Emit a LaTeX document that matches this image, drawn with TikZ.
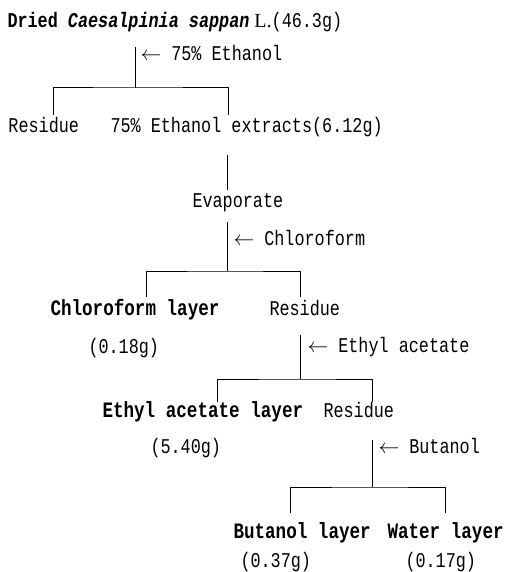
\documentclass[tikz,border=0pt]{standalone}
\usepackage{fontspec}
\setmainfont{Liberation Serif}
\newfontfamily\gulim[FakeStretch=0.8]{Liberation Mono}
\usetikzlibrary{positioning}
\tikzstyle{txt} = [inner sep=0pt, anchor=base west,
    font=\gulim\fontsize{21}{24}\selectfont]
\tikzstyle{lay} = [txt, font=\gulim\bfseries\fontsize{22}{26}\selectfont]
\tikzstyle{ln} = [line width=1pt]
\newcommand{\lar}{$\leftarrow$\ }

\begin{document}
\begin{tikzpicture}[x=1pt,y=-1pt,ln]
  \useasboundingbox (0,0) rectangle (511,572);

  \node[txt] (dried) at (7,28)
    {\textbf{Dried \textit{Caesalpinia sappan}}{\rmfamily\fontsize{20}{24}\selectfont\ L.}(46.3g)};
  \coordinate (t1) at (135,47);
  \coordinate (j1) at (135,88);
  \coordinate (l1) at (53,115);
  \coordinate (r1) at (228,115);
  \node[txt] (eth) at (140,61) {\lar 75\% Ethanol};
  \node[txt] (res1) at (8,133) {Residue};
  \node[txt] (ext) at (110,133) {75\% Ethanol extracts(6.12g)};

  \coordinate (t2) at (227,155);
  \coordinate (b2) at (227,190);
  \node[txt] (evap) at (192,207) {Evaporate};

  \coordinate (t3) at (227,222);
  \coordinate (j3) at (227,271);
  \coordinate (l3) at (146,297);
  \coordinate (r3) at (300,297);
  \node[txt] (chl) at (233,245) {\lar Chloroform};
  \node[lay] (chlay) at (50,315) {Chloroform layer};
  \node[txt] (res3) at (269,315) {Residue};
  \node[txt] (w3) at (88,353) {(0.18g)};

  \coordinate (t4) at (300,335);
  \coordinate (j4) at (300,379);
  \coordinate (l4) at (217,402);
  \coordinate (r4) at (372,402);
  \node[txt] (ea) at (307,352) {\lar Ethyl acetate};
  \node[lay] (ealay) at (102,417) {Ethyl acetate layer};
  \node[txt] (res4) at (323,417) {Residue};
  \node[txt] (w4) at (150,453) {(5.40g)};

  \coordinate (t5) at (372,440);
  \coordinate (j5) at (372,487);
  \coordinate (l5) at (290,513);
  \coordinate (r5) at (445,513);
  \node[txt] (but) at (378,453) {\lar Butanol};
  \node[lay] (bulay) at (233,538) {Butanol layer};
  \node[lay] (walay) at (387,538) {Water layer};
  \node[txt] (w5a) at (240,567) {(0.37g)};
  \node[txt] (w5b) at (405,567) {(0.17g)};

  \draw (t1) -- (j1);
  \draw (l1) |- (j1) -| (r1);
  \draw (t2) -- (b2);
  \draw (t3) -- (j3);
  \draw (l3) |- (j3) -| (r3);
  \draw (t4) -- (j4);
  \draw (l4) |- (j4) -| (r4);
  \draw (t5) -- (j5);
  \draw (l5) |- (j5) -| (r5);
\end{tikzpicture}
\end{document}
